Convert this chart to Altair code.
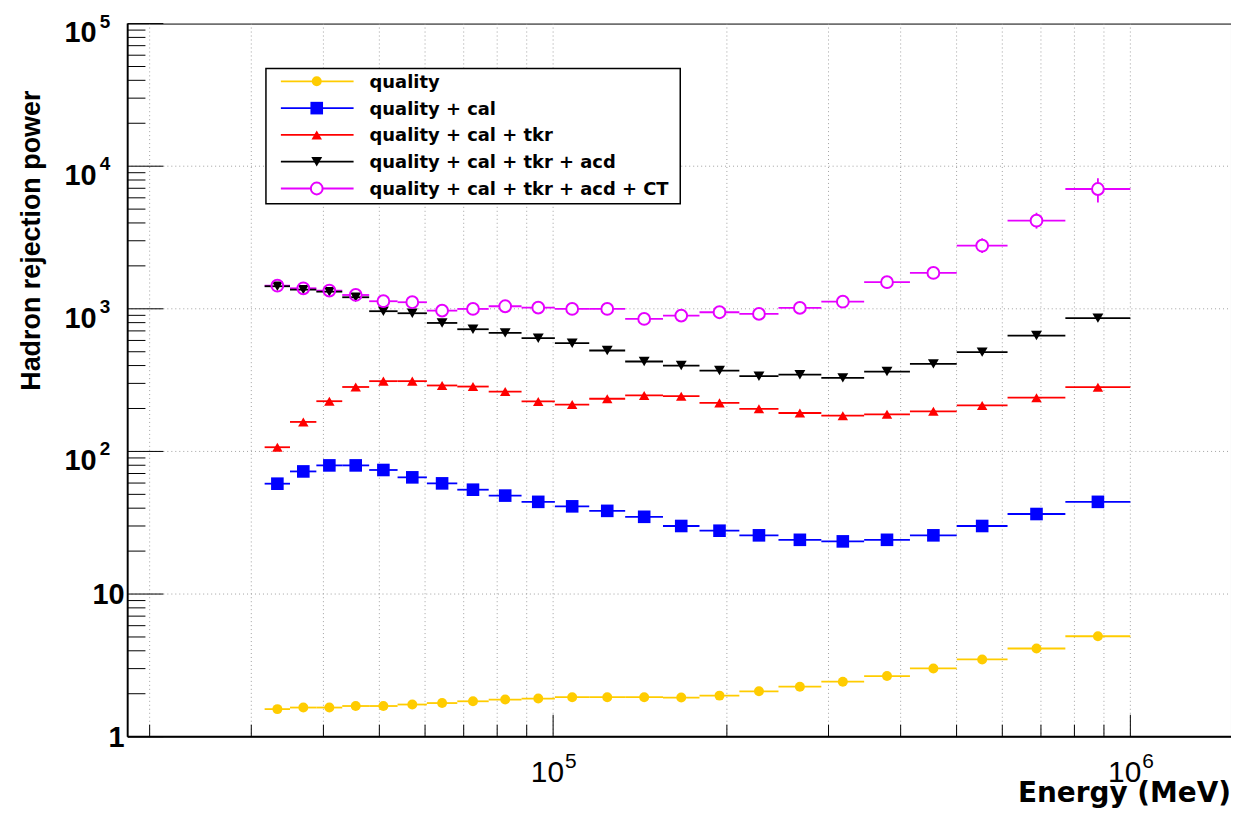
import altair as alt
import pandas as pd

# ---------------- data ----------------
energy = [33290, 36920, 40960, 45500, 50810, 57020, 64220, 72640, 82600, 94240,
          107900, 124100, 143800, 166700, 194200, 227300, 267600, 317600, 378800,
          455800, 553700, 687700, 878600]
bin_lo = [31640, 35010, 38890, 43120, 48010, 53770, 60440, 68230, 77340, 88170,
          100700, 115500, 133300, 155000, 179300, 210200, 245700, 291500, 345800,
          415100, 500300, 612700, 771600]
bin_hi = [35010, 38890, 43120, 48010, 53770, 60440, 68230, 77340, 88170, 100700,
          115500, 133300, 155000, 179300, 210200, 245700, 291500, 345800, 415100,
          500300, 612700, 771600, 1000000]

quality = [1.56, 1.60, 1.60, 1.64, 1.64, 1.68, 1.72, 1.77, 1.82, 1.85, 1.89, 1.89,
           1.89, 1.88, 1.94, 2.08, 2.24, 2.43, 2.66, 3.01, 3.48, 4.15, 5.06]
q_cal = [59.4, 72.4, 79.8, 79.8, 74.1, 65.8, 59.7, 53.9, 49.0, 44.3, 41.2, 38.3,
         34.8, 30.0, 27.8, 25.8, 24.0, 23.4, 24.0, 25.8, 30.0, 36.4, 44.3]
q_cal_tkr = [107, 161, 225, 283, 311, 311, 290, 285, 263, 224, 213, 234, 247, 244,
             219, 199, 186, 178, 182, 191, 210, 238, 282]
q_cal_tkr_acd = [1439, 1363, 1319, 1205, 962, 931, 796, 719, 678, 622, 574, 510,
                 427, 400, 369, 337, 345, 328, 363, 411, 497, 649, 860]
q_all_ct = [1453, 1393, 1341, 1250, 1130, 1112, 971, 998, 1042, 1019, 998, 998,
            849, 896, 946, 921, 1015, 1122, 1536, 1784, 2770, 4149, 6918]
# visible vertical error bars of the last CT points
ct_err_energy = [553700, 687700, 878600]
ct_err_lo = [2462, 3649, 5573]
ct_err_hi = [3120, 4716, 8222]

series_names = ["quality", "quality + cal", "quality + cal + tkr",
                "quality + cal + tkr + acd", "quality + cal + tkr + acd + CT"]
series_values = [quality, q_cal, q_cal_tkr, q_cal_tkr_acd, q_all_ct]

x_grid = [20000, 30000, 40000, 50000, 60000, 70000, 80000, 90000,
          100000, 200000, 300000, 400000, 500000, 600000, 700000, 800000, 900000, 1000000]
x_major = [100000, 1000000]
x_minor = [20000, 30000, 40000, 50000, 60000, 70000, 80000, 90000,
           200000, 300000, 400000, 500000, 600000, 700000, 800000, 900000]
y_major = [1, 10, 100, 1000, 10000, 100000]
y_grid = [10, 100, 1000, 10000]
y_minor = [m * d for d in [1, 10, 100, 1000, 10000] for m in range(2, 10)]

x_lab_vals = [100000, 1000000]
x_lab_exp = ["5", "6"]
y_plain_vals = [1, 10]
y_plain_text = ["1", "10"]
y_exp_vals = [100, 1000, 10000, 100000]
y_exp_text = ["2", "3", "4", "5"]

# ---------------- styling ----------------
colors = ["#FFCC00", "#0000FF", "#FF0000", "#000000", "#E600FF"]
shapes = ["circle", "square", "triangle-up", "triangle-down", "circle"]
sizes = [100, 160, 110, 120, 140]

W, H = 1108, 716
xs = alt.Scale(type="log", domain=[18310, 1494000], nice=False)
ys = alt.Scale(type="log", domain=[1, 100000], nice=False)

def X(f):
    return alt.X(f, type="quantitative", scale=xs, axis=None)

def Y(f):
    return alt.Y(f, type="quantitative", scale=ys, axis=None)

layers = []

# grid
gx = pd.DataFrame({"v": x_grid})
gy = pd.DataFrame({"v": y_grid})
layers.append(alt.Chart(gx).mark_rule(color="#a0a0a0", strokeWidth=1, strokeDash=[1, 3]).encode(
    x=X("v"), y=alt.value(0), y2=alt.value(H)))
layers.append(alt.Chart(gy).mark_rule(color="#a0a0a0", strokeWidth=1, strokeDash=[1, 3]).encode(
    y=Y("v"), x=alt.value(0), x2=alt.value(W)))

# ticks (inside)
layers.append(alt.Chart(pd.DataFrame({"v": x_minor})).mark_rule(color="black", strokeWidth=1).encode(
    x=X("v"), y=alt.value(H), y2=alt.value(H - 12)))
layers.append(alt.Chart(pd.DataFrame({"v": x_major})).mark_rule(color="black", strokeWidth=1).encode(
    x=X("v"), y=alt.value(H), y2=alt.value(H - 22)))
layers.append(alt.Chart(pd.DataFrame({"v": y_minor})).mark_rule(color="black", strokeWidth=1).encode(
    y=Y("v"), x=alt.value(0), x2=alt.value(18)))
layers.append(alt.Chart(pd.DataFrame({"v": y_major})).mark_rule(color="black", strokeWidth=1).encode(
    y=Y("v"), x=alt.value(0), x2=alt.value(36)))

# data
frames = []
for name, vals in zip(series_names, series_values):
    frames.append(pd.DataFrame({"series": name, "e": energy, "lo": bin_lo, "hi": bin_hi, "v": vals}))

def series_layers(i, hollow=False):
    df = frames[i]
    out = [alt.Chart(df).mark_rule(color=colors[i], strokeWidth=1.8).encode(
        x=X("lo"), x2=alt.X2("hi"), y=Y("v"))]
    if hollow:
        return out
    out.append(alt.Chart(df).mark_point(shape=shapes[i], filled=True, color=colors[i],
                                        size=sizes[i], opacity=1).encode(x=X("e"), y=Y("v")))
    return out

for i in range(3):
    layers += series_layers(i)

# CT series: lines, error bars, white interior
ct = frames[4]
errdf = pd.DataFrame({"e": ct_err_energy, "lo": ct_err_lo, "hi": ct_err_hi})
layers += series_layers(4, hollow=True)
layers.append(alt.Chart(errdf).mark_rule(color=colors[4], strokeWidth=1.8).encode(
    x=X("e"), y=Y("lo"), y2=alt.Y2("hi")))
layers.append(alt.Chart(ct).mark_point(shape="circle", filled=True, color="white",
                                       size=sizes[4], opacity=1).encode(x=X("e"), y=Y("v")))
# acd series
layers += series_layers(3)
# CT outlines on top
layers.append(alt.Chart(ct).mark_point(shape="circle", filled=False, color=colors[4],
                                       strokeWidth=2, size=sizes[4], opacity=1).encode(x=X("e"), y=Y("v")))

# thicker left / bottom frame lines
one = pd.DataFrame({"a": [0]})
layers.append(alt.Chart(one).mark_rule(color="black", strokeWidth=1.6).encode(
    x=alt.value(0), y=alt.value(0), y2=alt.value(H)))
layers.append(alt.Chart(one).mark_rule(color="black", strokeWidth=1.6).encode(
    x=alt.value(0), x2=alt.value(W), y=alt.value(H)))

# tick labels
lab_font = "Liberation Sans"
xl = pd.DataFrame({"v": x_lab_vals, "exp": x_lab_exp})
layers.append(alt.Chart(xl).mark_text(font=lab_font, fontSize=30,
                                      align="right", baseline="alphabetic", dx=11, color="black").encode(
    x=X("v"), y=alt.value(H + 46), text=alt.value("10")))
layers.append(alt.Chart(xl).mark_text(font=lab_font, fontSize=21,
                                      align="left", baseline="alphabetic", dx=12, color="black").encode(
    x=X("v"), y=alt.value(H + 31), text="exp:N"))

yp = pd.DataFrame({"v": y_plain_vals, "t": y_plain_text})
layers.append(alt.Chart(yp).mark_text(font=lab_font, fontWeight="bold", fontSize=29,
                                      align="right", baseline="alphabetic", dy=10, color="black").encode(
    y=Y("v"), x=alt.value(-3), text="t:N"))
ye = pd.DataFrame({"v": y_exp_vals, "exp": y_exp_text})
layers.append(alt.Chart(ye).mark_text(font=lab_font, fontWeight="bold", fontSize=29,
                                      align="right", baseline="alphabetic", dy=19, color="black").encode(
    y=Y("v"), x=alt.value(-31), text=alt.value("10")))
layers.append(alt.Chart(ye).mark_text(font=lab_font, fontWeight="bold", fontSize=19,
                                      align="left", baseline="alphabetic", dy=4, color="black").encode(
    y=Y("v"), x=alt.value(-28), text="exp:N"))

# axis titles
layers.append(alt.Chart(one).mark_text(font=lab_font, fontWeight="bold", fontSize=27, angle=270,
                                       align="center", baseline="alphabetic", color="black").encode(
    x=alt.value(-88), y=alt.value(218), text=alt.value("Hadron rejection power")))
layers.append(alt.Chart(one).mark_text(font="DejaVu Sans", fontWeight="bold", fontSize=28,
                                       align="right", baseline="alphabetic", color="black").encode(
    x=alt.value(W), y=alt.value(H + 66), text=alt.value("Energy (MeV)")))

# legend
leg_x1, leg_x2, leg_y1, leg_y2 = 139, 555, 45, 181
layers.append(alt.Chart(one).mark_rect(fill="white", stroke="black", strokeWidth=1.5).encode(
    x=alt.value(leg_x1), x2=alt.value(leg_x2), y=alt.value(leg_y1), y2=alt.value(leg_y2)))
row0, drow = 58, 26.9
for i, name in enumerate(series_names):
    yy = row0 + i * drow
    d1 = pd.DataFrame({"label": [name]})
    layers.append(alt.Chart(d1).mark_rule(color=colors[i], strokeWidth=1.8).encode(
        x=alt.value(154), x2=alt.value(227), y=alt.value(yy)))
    if i == 4:
        layers.append(alt.Chart(d1).mark_point(shape="circle", filled=True, color="white",
                                               size=sizes[i], opacity=1).encode(x=alt.value(190), y=alt.value(yy)))
        layers.append(alt.Chart(d1).mark_point(shape="circle", filled=False, color=colors[i],
                                               strokeWidth=2, size=sizes[i], opacity=1).encode(
            x=alt.value(190), y=alt.value(yy)))
    else:
        layers.append(alt.Chart(d1).mark_point(shape=shapes[i], filled=True, color=colors[i],
                                               size=sizes[i], opacity=1).encode(x=alt.value(190), y=alt.value(yy)))
    layers.append(alt.Chart(d1).mark_text(font="DejaVu Sans", fontWeight="bold", fontSize=18,
                                          align="left", baseline="alphabetic", color="black").encode(
        x=alt.value(243), y=alt.value(yy + 6.5), text="label:N"))

chart = alt.layer(*layers).properties(
    width=W, height=H,
    autosize="none",
    padding={"left": 120, "top": 14, "right": 0, "bottom": 70},
    background="white",
).configure_view(stroke="black", strokeWidth=1)

chart.save("out.html", embed_options={"renderer": "svg", "actions": False})
